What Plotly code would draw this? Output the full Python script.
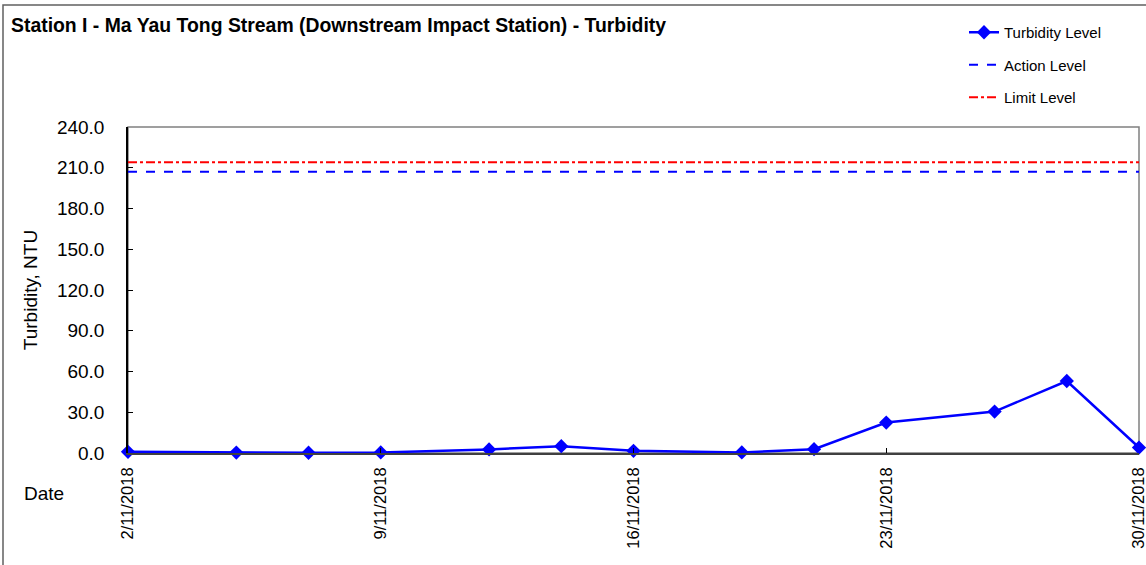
import plotly.graph_objects as go

dates = ["2018-11-02", "2018-11-05", "2018-11-07", "2018-11-09", "2018-11-12",
         "2018-11-14", "2018-11-16", "2018-11-19", "2018-11-21", "2018-11-23",
         "2018-11-26", "2018-11-28", "2018-11-30"]
turbidity = [0.9, 0.3, 0.2, 0.4, 2.6, 5.0, 1.6, 0.4, 2.8, 22.4, 30.5, 53.0, 4.0]
action_level = 207.0
limit_level = 214.0
level_dates = ["2018-11-02", "2018-11-30"]
xtick_vals = ["2018-11-02", "2018-11-09", "2018-11-16", "2018-11-23", "2018-11-30"]
xtick_text = ["2/11/2018", "9/11/2018", "16/11/2018", "23/11/2018", "30/11/2018"]
ytick_vals = [0, 30, 60, 90, 120, 150, 180, 210, 240]
ytick_text = ["0.0", "30.0", "60.0", "90.0", "120.0", "150.0", "180.0", "210.0", "240.0"]

FONT = "Liberation Sans, Arial, sans-serif"
W, H = 1146, 565
L, R, T, B = 128, 7, 127, 112
pw, ph = W - L - R, H - T - B

def px(x):
    return (x - L) / pw

def py(y):
    return (H - B - y) / ph

fig = go.Figure()
fig.add_trace(go.Scatter(
    x=dates, y=turbidity, mode="lines+markers", name="Turbidity Level",
    line=dict(color="#0000FF", width=2.5),
    marker=dict(symbol="diamond", size=11, color="#0000FF"),
    cliponaxis=False, legendgroup="a"))
fig.add_trace(go.Scatter(
    x=level_dates, y=[action_level] * 2, mode="lines", name="Action Level",
    line=dict(color="#0000FF", width=2, dash="dash"), legendgroup="b"))
fig.add_trace(go.Scatter(
    x=level_dates, y=[limit_level] * 2, mode="lines", name="Limit Level",
    line=dict(color="#FF0000", width=2, dash="dashdot"), legendgroup="c"))

fig.update_layout(
    width=W, height=H,
    margin=dict(l=L, r=R, t=T, b=B, autoexpand=False),
    paper_bgcolor="white", plot_bgcolor="white",
    font=dict(family=FONT, color="black"),
    showlegend=True,
    legend=dict(x=px(964), y=py(16), xanchor="left", yanchor="top",
                font=dict(size=15, family=FONT), traceorder="grouped",
                tracegroupgap=10, bgcolor="rgba(0,0,0,0)"),
    xaxis=dict(range=["2018-11-02", "2018-11-30"], tickvals=xtick_vals,
               ticktext=xtick_text, tickangle=-90, ticks="inside", ticklen=5,
               tickcolor="black", showgrid=False, zeroline=False,
               showline=True, linecolor="#404040", linewidth=1.5,
               ticklabeloverflow="allow", ticklabelstandoff=6,
               tickfont=dict(size=16.5, family=FONT)),
    yaxis=dict(range=[0, 240], tickvals=ytick_vals, ticktext=ytick_text,
               ticks="inside", ticklen=5, tickcolor="black", showgrid=False,
               zeroline=False, showline=True, linecolor="black", linewidth=1.5,
               tickfont=dict(size=19, family=FONT), ticklabelstandoff=18,
               title=dict(text="Turbidity, NTU", font=dict(size=19, family=FONT),
                          standoff=14)),
    shapes=[
        dict(type="rect", xref="paper", yref="paper", x0=0, x1=1, y0=0, y1=1,
             line=dict(color="#808080", width=1.5), layer="below"),
        dict(type="rect", xref="paper", yref="paper", x0=px(3), x1=px(1175),
             y0=py(585), y1=py(5), line=dict(color="#606060", width=1.5)),
    ],
    annotations=[
        dict(text="<b>Station I - Ma Yau Tong Stream (Downstream Impact Station) - Turbidity</b>",
             xref="paper", yref="paper", x=px(9), y=py(25), xanchor="left",
             yanchor="middle", showarrow=False, font=dict(size=19.4, family=FONT)),
        dict(text="Date", xref="paper", yref="paper", x=px(22), y=py(493),
             xanchor="left", yanchor="middle", showarrow=False,
             font=dict(size=19, family=FONT)),
    ],
)

fig.write_html("out.html", config={"displayModeBar": False},
               post_script="document.body.style.margin='0';document.body.style.padding='0';")
